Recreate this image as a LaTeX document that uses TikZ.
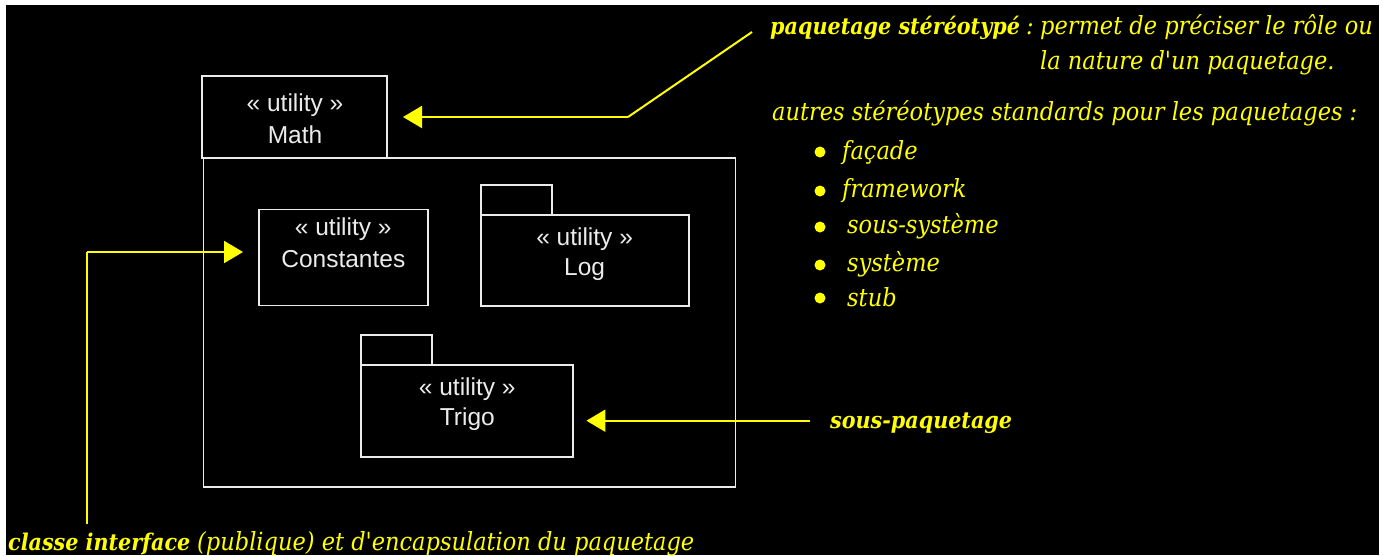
\documentclass[tikz,border=0pt]{standalone}
\usepackage{fontspec}
\setmainfont{Liberation Sans}
\newfontfamily\yfont{DejaVu Serif Condensed}
\usetikzlibrary{arrows.meta}
\definecolor{ylw}{RGB}{255,255,0}
\definecolor{wht}{RGB}{235,235,235}
\tikzset{
  pkg/.style={draw=wht, line width=1.8pt, inner sep=0pt},
  wtxt/.style={text=wht, font=\fontsize{24.5}{26}\selectfont, inner sep=0pt},
  ytxt/.style={text=ylw, font=\yfont\itshape\fontsize{25}{28}\selectfont, inner sep=0pt, anchor=base west},
  ybold/.style={text=ylw, font=\yfont\bfseries\itshape\fontsize{23}{26}\selectfont, inner sep=0pt, anchor=base west},
  yarrow/.style={draw=ylw, line width=2pt, -{Triangle[length=19pt,width=22pt]}},
  yline/.style={draw=ylw, line width=2pt},
  bullet/.style={circle, fill=ylw, minimum size=11pt, inner sep=0pt},
}
\begin{document}
\begin{tikzpicture}[x=1pt,y=-1pt]
\useasboundingbox (0,0) rectangle (1389,555);
\fill[white] (0,0) rectangle (1389,555);
\fill[black] (6,5) rectangle (1379,555);

% Math package
\node[pkg, minimum width=185pt, minimum height=82pt] (mathtab) at (294.5,117) {};
\node[pkg, minimum width=532pt, minimum height=329pt] (mathbody) at (469.5,322.5) {};
\node[wtxt] (mathst) at (295,105) {« utility »};
\node[wtxt] (mathnm) at (295,135) {Math};

% Constantes class
\node[pkg, minimum width=169pt, minimum height=96pt] (cons) at (343.3,257.5) {};
\node[wtxt] (consst) at (343.3,229) {« utility »};
\node[wtxt] (consnm) at (343.3,259) {Constantes};

% Log package
\node[pkg, minimum width=71pt, minimum height=30pt] (logtab) at (516.2,200.2) {};
\node[pkg, minimum width=208pt, minimum height=91pt] (logbody) at (584.6,260.3) {};
\node[wtxt] (logst) at (584.6,239) {« utility »};
\node[wtxt] (lognm) at (584.6,270) {Log};

% Trigo package
\node[pkg, minimum width=71pt, minimum height=30pt] (trigotab) at (396.7,350) {};
\node[pkg, minimum width=212pt, minimum height=92pt] (trigobody) at (467.3,411) {};
\node[wtxt] (trigost) at (467.3,389) {« utility »};
\node[wtxt] (trigonm) at (467.3,419) {Trigo};

% annotation: paquetage stereotype
\node[ybold] (stlbl) at (770,34) {paquetage stéréotypé};
\node[ytxt] (stcolon) at (1026,34) {:};
\node[ytxt] (st1) at (1040,34) {permet de préciser le rôle ou};
\node[ytxt] (st2) at (1040,69) {la nature d'un paquetage.};
\coordinate (c1) at (752,32);
\coordinate (c2) at (628,117);
\coordinate (c3) at (403,117);
\draw[yline] (c1) -- (c2);
\draw[yarrow] (c2) -- (c3);

% other stereotypes
\node[ytxt] (autres) at (772,120) {autres stéréotypes standards pour les paquetages :};
\node[bullet] (b1) at (820,152) {};
\node[bullet] (b2) at (820,191) {};
\node[bullet] (b3) at (820,227) {};
\node[bullet] (b4) at (820,265) {};
\node[bullet] (b5) at (820,298) {};
\node[ytxt] (i1) at (842,159) {façade};
\node[ytxt] (i2) at (842,197) {framework};
\node[ytxt] (i3) at (847,233) {sous-système};
\node[ytxt] (i4) at (847,271) {système};
\node[ytxt] (i5) at (847,306) {stub};

% sous-paquetage
\node[ybold] (souslbl) at (830,428) {sous-paquetage};
\coordinate (s1) at (810,420.7);
\coordinate (s2) at (586.4,420.7);
\draw[yarrow] (s1) -- (s2);

% classe interface
\node[ybold] (cilbl) at (8,550) {classe interface};
\node[ytxt] (cirest) at (197,550) {(publique) et d'encapsulation du paquetage};
\coordinate (i0) at (87,524);
\coordinate (ia) at (87,252);
\coordinate (ib) at (243,252);
\draw[yline] (i0) -- (ia);
\draw[yarrow] (ia) -- (ib);
\end{tikzpicture}
\end{document}
